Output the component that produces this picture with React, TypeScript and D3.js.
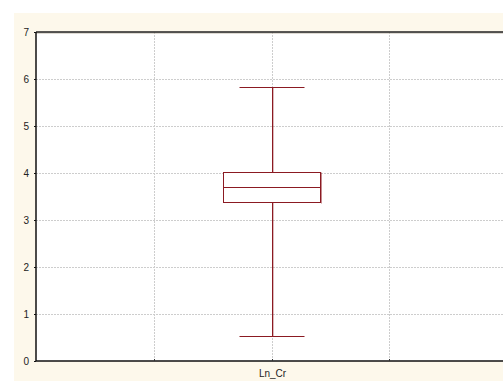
import React from "react";
import * as d3 from "d3";

// Box-plot summary for the variable
const categories = ["Ln_Cr"];
const whiskerLow = [0.53];
const q1 = [3.38];
const median = [3.7];
const q3 = [4.015];
const whiskerHigh = [5.82];
const yTicks = [0, 1, 2, 3, 4, 5, 6, 7];

const W = 503;
const H = 381;
const BOX_COLOR = "#8b1a22";

export default function App() {
  const left = 36;
  const top = 32;
  const bottom = 361;
  const right = 507;

  const y = d3.scaleLinear().domain([0, 7]).range([bottom, top]);
  // category sits in the middle of a 4-division span
  const x = d3.scaleLinear().domain([-2, 2]).range([left, right]);
  const gridX = [-1, 0, 1];
  const boxHalf = 0.41;
  const capHalf = 0.28;

  const px = (v: number) => Math.round(v) + 0.5;

  return (
    <svg
      width={W}
      height={H}
      style={{ position: "absolute", left: 0, top: 0, fontFamily: "Arial, 'Liberation Sans', sans-serif" }}
    >
      <rect x={0} y={0} width={W} height={H} fill="#ffffff" />
      <rect x={14} y={13} width={W - 14} height={H - 13} fill="#fdf8eb" />
      <rect x={left} y={top} width={right - left + 10} height={bottom - top} fill="#ffffff" />

      {/* grid */}
      {yTicks.filter((t) => t > 0 && t < 7).map((t) => (
        <line key={"gy" + t} x1={left} x2={W} y1={px(y(t))} y2={px(y(t))}
          stroke="#cdcdcd" strokeWidth={1} strokeDasharray="2,1" />
      ))}
      {gridX.map((g) => (
        <line key={"gx" + g} x1={px(x(g))} x2={px(x(g))} y1={top} y2={bottom}
          stroke="#cdcdcd" strokeWidth={1} strokeDasharray="2,1" />
      ))}

      {/* box plots */}
      {categories.map((c, i) => {
        const cx = px(x(i));
        const bx0 = Math.round(x(i - boxHalf)) + 0.5;
        const bx1 = Math.round(x(i + boxHalf)) + 0.5;
        const cx0 = Math.round(x(i - capHalf)) + 0.5;
        const cx1 = Math.round(x(i + capHalf)) + 0.5;
        return (
          <g key={c}>
            {/* light shading */}
            <line x1={cx + 1} x2={cx + 1} y1={px(y(whiskerHigh[i]))} y2={px(y(whiskerLow[i]))}
              stroke={BOX_COLOR} strokeOpacity={0.3} />
            <line x1={bx1 + 1} x2={bx1 + 1} y1={px(y(q3[i]))} y2={px(y(q1[i])) + 1}
              stroke={BOX_COLOR} strokeOpacity={0.5} />
            <line x1={cx} x2={cx} y1={px(y(whiskerHigh[i]))} y2={px(y(q3[i]))} stroke={BOX_COLOR} />
            <line x1={cx} x2={cx} y1={px(y(q1[i]))} y2={px(y(whiskerLow[i]))} stroke={BOX_COLOR} />
            <line x1={cx0} x2={cx1} y1={px(y(whiskerHigh[i]))} y2={px(y(whiskerHigh[i]))} stroke={BOX_COLOR} />
            <line x1={cx0} x2={cx1} y1={px(y(whiskerLow[i]))} y2={px(y(whiskerLow[i]))} stroke={BOX_COLOR} />
            <rect x={bx0} y={px(y(q3[i]))} width={bx1 - bx0} height={px(y(q1[i])) - px(y(q3[i]))}
              fill="#ffffff" stroke={BOX_COLOR} />
            <line x1={bx0} x2={bx1} y1={px(y(median[i]))} y2={px(y(median[i]))} stroke={BOX_COLOR} />
            <text x={cx} y={377} fontSize={10} textAnchor="middle" fill="#222">{c}</text>
          </g>
        );
      })}

      {/* axes frame */}
      <line x1={left} x2={W} y1={top + 1} y2={top + 1} stroke="#bdb6a8" strokeWidth={1} />
      <line x1={left} x2={W} y1={top} y2={top} stroke="#222" strokeWidth={1.5} />
      <line x1={left} x2={W} y1={bottom} y2={bottom} stroke="#111" strokeWidth={1.5} />
      <line x1={left} x2={left} y1={top} y2={bottom} stroke="#111" strokeWidth={1.5} />
      {gridX.map((g) => (
        <line key={"tx" + g} x1={px(x(g))} x2={px(x(g))} y1={bottom - 2} y2={bottom}
          stroke="#333" strokeWidth={1} />
      ))}

      {/* y ticks */}
      {yTicks.map((t) => (
        <g key={"yt" + t}>
          <line x1={left - 2} x2={left} y1={px(y(t))} y2={px(y(t))} stroke="#111" />
          <text x={29} y={y(t) + 3.5} fontSize={10} textAnchor="end" fill="#222">{t}</text>
        </g>
      ))}
    </svg>
  );
}
